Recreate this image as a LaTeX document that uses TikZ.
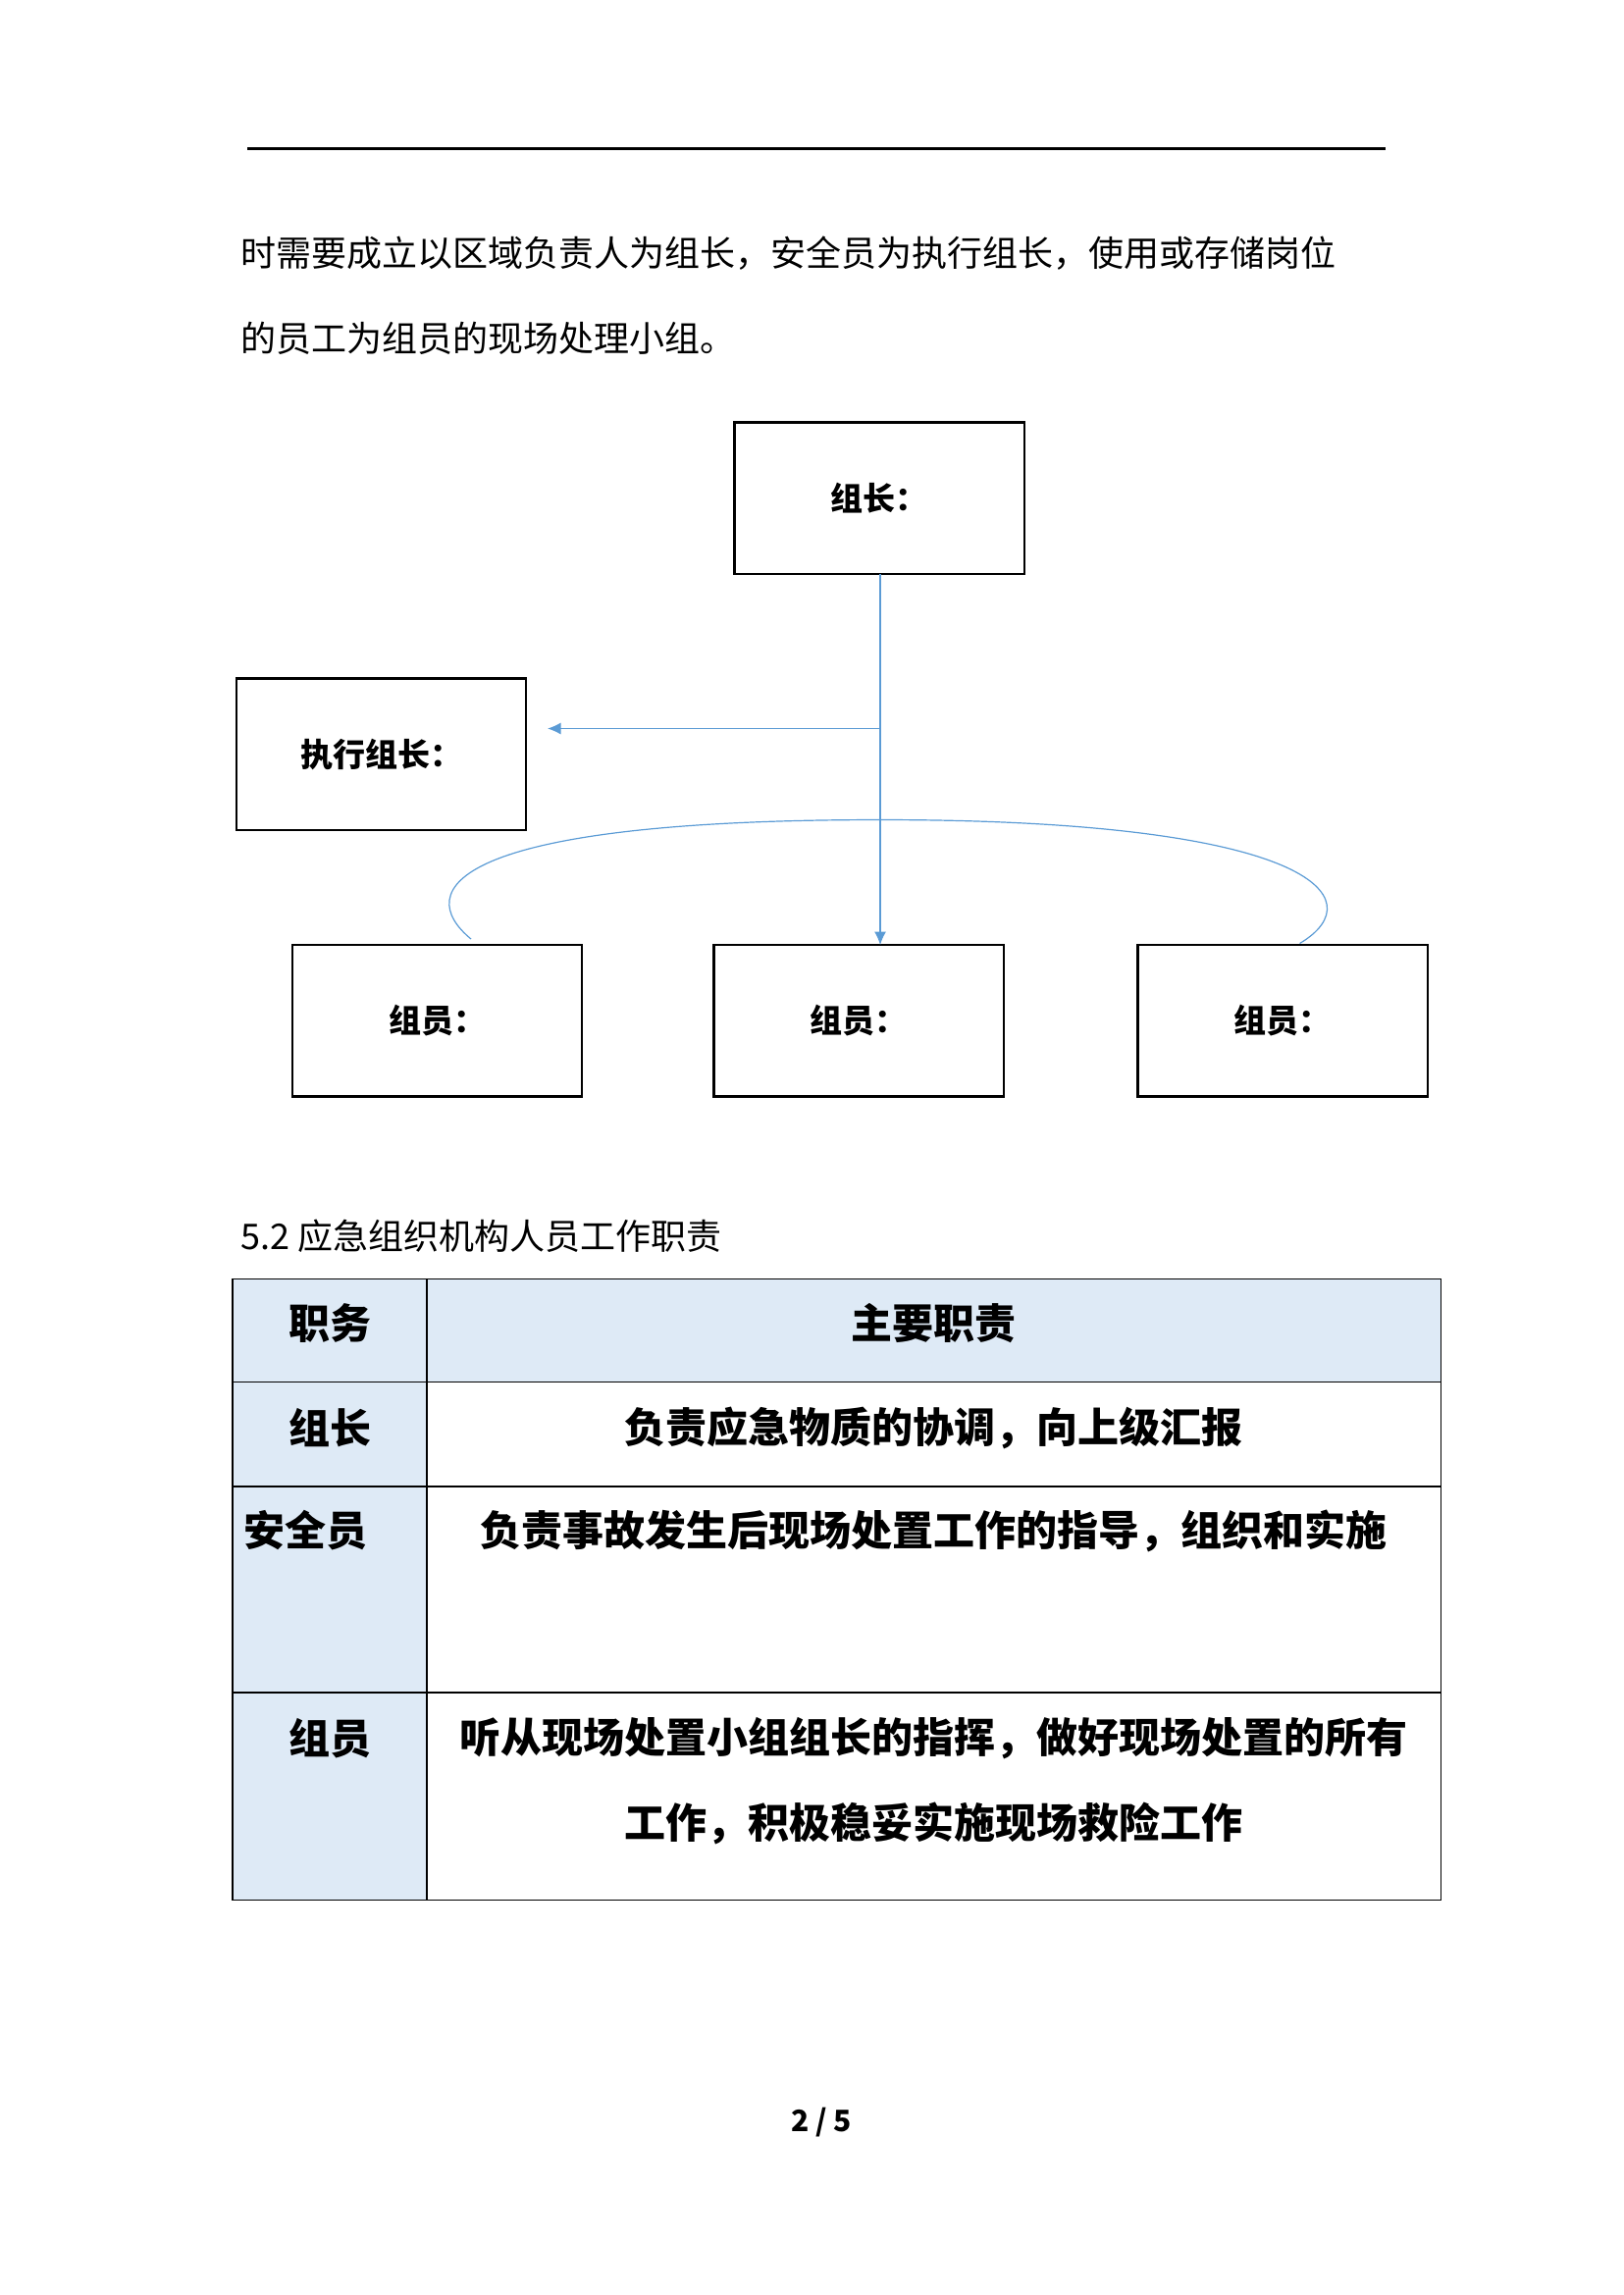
\documentclass[tikz,border=0pt]{standalone}
\usepackage{fontspec}
\setmainfont{Noto Sans CJK SC}
\usetikzlibrary{arrows.meta}
\definecolor{linkblue}{HTML}{5B9BD5}
\definecolor{cellblue}{HTML}{DEEAF6}
\tikzset{
  box/.style={draw,line width=1.6pt,minimum width=197pt,minimum height=103pt,font=\fontsize{22}{22}\selectfont\bfseries},
  link/.style={draw=linkblue,line width=0.8pt},
  cell/.style={font=\fontsize{28}{28}\selectfont\bfseries},
  body/.style={anchor=west,font=\fontsize{24}{24}\selectfont}
}
\begin{document}
\begin{tikzpicture}[x=1pt,y=-1pt]
  \useasboundingbox (0,0) rectangle (1102.7,1559.3);
  % Header rule and text
  \draw[line width=1.5pt] (168,101) -- (941,101);
  \node[body] (line1) at (160,172) {时需要成立以区域负责人为组长，安全员为执行组长，使用或存储岗位};
  \node[body] (line2) at (160,230) {的员工为组员的现场处理小组。};

  % Organisation chart
  \node[box] (leader) at (597.5,338.5) {组长：};
  \node[box] (exec) at (259,512.5) {执行组长：};
  \node[box] (m1) at (297,693.5) {组员：};
  \node[box] (m2) at (583.5,693.5) {组员：};
  \node[box] (m3) at (871.5,693.5) {组员：};
  \coordinate (split) at (598,495);
  \draw[link,-{Latex[length=9pt,width=8pt]}] (598,390) -- (598,642);
  \draw[link,-{Latex[length=9pt,width=8pt]}] (split) -- (372,495);
  \draw[link] (320,638) .. controls (280,605) and (305,557) .. (598,557)
    .. controls (890,557) and (935,610) .. (883,641);

  % Table
  \node[body] (title) at (160,840) {5.2 应急组织机构人员工作职责};
  \fill[cellblue] (158,869) rectangle (979,939);
  \fill[cellblue] (158,939) rectangle (290,1291);
  \draw[line width=0.8pt] (158,869) rectangle (979,1291);
  \draw[line width=0.8pt] (290,869) -- (290,1291);
  \foreach \yy in {939,1010,1150}
    \draw[line width=0.8pt] (158,\yy) -- (979,\yy);
  \node[cell] (h1) at (224,899) {职务};
  \node[cell] (h2) at (634,899) {主要职责};
  \node[cell] (r1) at (224,970) {组长};
  \node[cell] (d1) at (634,970) {负责应急物质的协调，向上级汇报};
  \node[cell,anchor=west] (r2) at (162,1040) {安全员};
  \node[cell] (d2) at (634,1040) {负责事故发生后现场处置工作的指导，组织和实施};
  \node[cell] (r3) at (224,1181) {组员};
  \node[cell] (d3) at (634,1181) {听从现场处置小组组长的指挥，做好现场处置的所有};
  \node[cell] (d3b) at (634,1239) {工作，积极稳妥实施现场救险工作};

  % Page number
  \node[font=\fontsize{20}{20}\selectfont\bfseries] (page) at (558,1442) {2 / 5};
\end{tikzpicture}
\end{document}
